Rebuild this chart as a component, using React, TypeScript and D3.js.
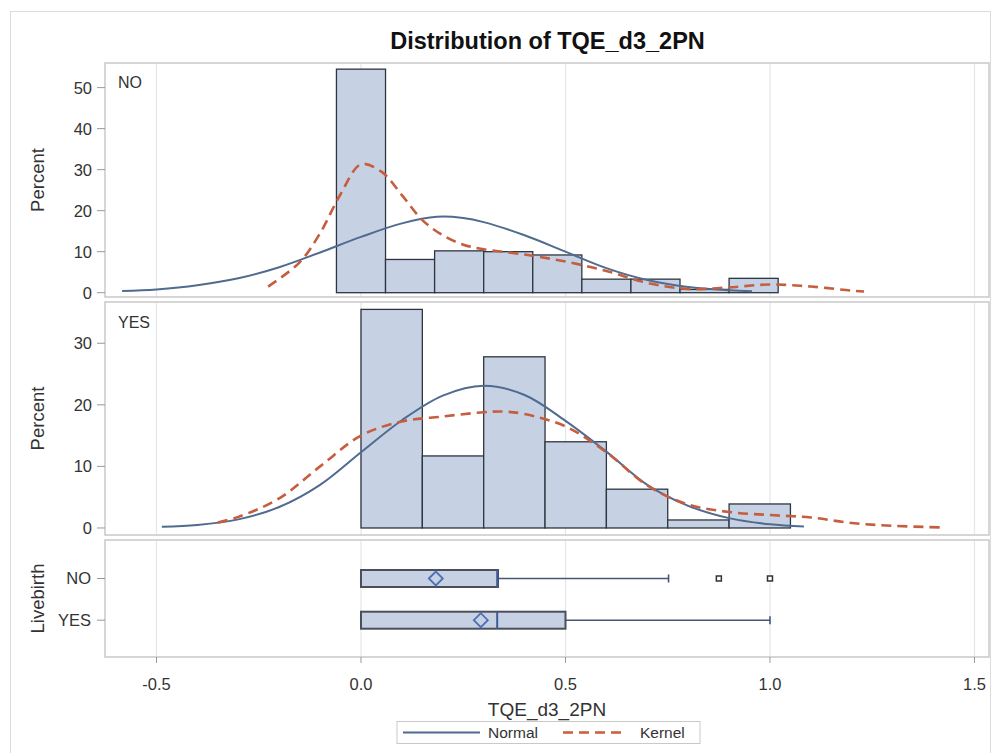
import React from "react";
import * as d3 from "d3";

// ---- data ----
const xTicks = [-0.5, 0, 0.5, 1.0, 1.5];
const yTicksNo = [0, 10, 20, 30, 40, 50];
const yTicksYes = [0, 10, 20, 30];
const groups = ["NO", "YES"];

// histogram, Livebirth = NO (bin edges + percent)
const noEdges = [-0.06, 0.06, 0.18, 0.3, 0.42, 0.54, 0.66, 0.78, 0.9, 1.02];
const noPercent = [54.5, 8.1, 10.2, 10.0, 9.2, 3.3, 3.3, 0.8, 3.5];

// histogram, Livebirth = YES
const yesEdges = [0, 0.15, 0.3, 0.45, 0.6, 0.75, 0.9, 1.05];
const yesPercent = [35.5, 11.7, 27.8, 14.0, 6.3, 1.3, 3.9];

// fitted curves [x, percent]
const noNormal: [number, number][] = [
  [-0.584, 0.4], [-0.5, 0.8], [-0.4, 1.8], [-0.3, 3.5], [-0.2, 6.2], [-0.1, 9.8],
  [0, 13.6], [0.1, 16.9], [0.186, 18.5], [0.25, 18.2], [0.3, 17.2], [0.4, 14.0],
  [0.5, 10.0], [0.6, 6.0], [0.7, 3.1], [0.8, 1.4], [0.9, 0.6], [0.956, 0.35],
];
const noKernel: [number, number][] = [
  [-0.227, 1.5], [-0.15, 7.4], [-0.1, 14.5], [-0.05, 24.0], [0, 31.3], [0.05, 29.5],
  [0.1, 23.8], [0.15, 17.7], [0.2, 14.0], [0.25, 11.7], [0.3, 10.6], [0.4, 9.3],
  [0.5, 7.6], [0.6, 5.3], [0.7, 2.4], [0.8, 0.9], [0.9, 1.3], [1.0, 2.0],
  [1.1, 1.5], [1.2, 0.5], [1.23, 0.3],
];
const yesNormal: [number, number][] = [
  [-0.487, 0.2], [-0.4, 0.5], [-0.3, 1.4], [-0.2, 3.4], [-0.1, 7.0], [0, 12.3],
  [0.1, 17.5], [0.2, 21.5], [0.3, 23.1], [0.4, 21.6], [0.5, 17.4], [0.6, 12.4],
  [0.7, 7.0], [0.8, 3.6], [0.9, 1.6], [1.0, 0.6], [1.083, 0.25],
];
const yesKernel: [number, number][] = [
  [-0.35, 0.9], [-0.3, 1.8], [-0.2, 4.8], [-0.1, 10.0], [0, 15.0], [0.1, 17.3],
  [0.2, 18.1], [0.3, 18.8], [0.35, 18.9], [0.4, 18.5], [0.5, 16.5], [0.6, 12.3],
  [0.7, 6.9], [0.8, 3.8], [0.9, 2.6], [1.0, 2.1], [1.1, 1.7], [1.2, 0.8],
  [1.3, 0.35], [1.416, 0.1],
];

// box plot stats per group
const boxQ1 = [0, 0];
const boxMedian = [0.333, 0.333];
const boxQ3 = [0.335, 0.5];
const boxMean = [0.183, 0.293];
const boxWhiskerHi = [0.752, 1.0];
const boxOutliers = [[0.875, 1.0], []];

// ---- styles ----
const FONT = "'Liberation Sans', Arial, sans-serif";
const BAR_FILL = "#c6d1e4";
const BAR_STROKE = "#2e3542";
const NORMAL_C = "#4f6b90";
const KERNEL_C = "#c65d3e";
const GRID_C = "#e6e6e6";
const FRAME_C = "#c9c9c9";
const TEXT_C = "#333";

const W = 992;
const H = 753;
const L = 105;
const R = 989;
const p1 = { top: 63, bottom: 297 };
const p2 = { top: 302, bottom: 535 };
const p3 = { top: 540, bottom: 657 };

const x = d3.scaleLinear().domain([-0.6259, 1.5355]).range([L, R]);
const y1 = d3.scaleLinear().domain([-1.05, 56.0]).range([p1.bottom, p1.top]);
const y2 = d3.scaleLinear().domain([-1.14, 36.7]).range([p2.bottom, p2.top]);
const yBox = d3.scalePoint().domain(groups).range([578.5, 620.2]);

function Hist({ edges, vals, y }: { edges: number[]; vals: number[]; y: d3.ScaleLinear<number, number> }) {
  return (
    <g>
      {vals.map((v, i) => (
        <rect
          key={i}
          x={x(edges[i])}
          y={y(v)}
          width={x(edges[i + 1]) - x(edges[i])}
          height={y(0) - y(v)}
          fill={BAR_FILL}
          stroke={BAR_STROKE}
          strokeWidth={1.3}
        />
      ))}
    </g>
  );
}

function Curves({ normal, kernel, y }: { normal: [number, number][]; kernel: [number, number][]; y: d3.ScaleLinear<number, number> }) {
  const line = d3
    .line<[number, number]>()
    .x((d) => x(d[0]))
    .y((d) => y(d[1]))
    .curve(d3.curveCatmullRom.alpha(0.5));
  return (
    <g fill="none">
      <path d={line(normal) || ""} stroke={NORMAL_C} strokeWidth={2} />
      <path d={line(kernel) || ""} stroke={KERNEL_C} strokeWidth={2.6} strokeDasharray="10,6" />
    </g>
  );
}

function Panel({ top, bottom }: { top: number; bottom: number }) {
  return (
    <g>
      {xTicks.map((t) => (
        <line key={t} x1={x(t)} x2={x(t)} y1={top} y2={bottom} stroke={GRID_C} strokeWidth={1.2} />
      ))}
      <rect x={L} y={top} width={R - L} height={bottom - top} fill="none" stroke={FRAME_C} strokeWidth={1.5} />
    </g>
  );
}

function YAxis({ ticks, y }: { ticks: number[]; y: d3.ScaleLinear<number, number> }) {
  return (
    <g>
      {ticks.map((t) => (
        <g key={t}>
          <line x1={97} x2={L} y1={y(t)} y2={y(t)} stroke="#999" />
          <text x={92} y={y(t)} dy="0.36em" textAnchor="end" fontSize={16.5} fill={TEXT_C}>
            {t}
          </text>
        </g>
      ))}
    </g>
  );
}

export default function App() {
  const bh = 8.5;
  return (
    <svg
      width={W}
      height={H}
      style={{ position: "absolute", left: 0, top: 0, background: "#fff" }}
      fontFamily={FONT}
    >
      <rect x={10.5} y={11.5} width={980} height={760} fill="#fff" stroke="#dcdcdc" />
      <text x={547.5} y={49} textAnchor="middle" fontSize={23.5} fontWeight="bold" fill="#111">
        Distribution of TQE_d3_2PN
      </text>

      {/* panel NO */}
      <Panel {...p1} />
      <Hist edges={noEdges} vals={noPercent} y={y1} />
      <Curves normal={noNormal} kernel={noKernel} y={y1} />
      <YAxis ticks={yTicksNo} y={y1} />
      <text x={118} y={88} fontSize={16} fill={TEXT_C}>NO</text>
      <text transform={`translate(38,${(p1.top + p1.bottom) / 2}) rotate(-90)`} textAnchor="middle" dy="0.35em" fontSize={18.5} fill={TEXT_C}>
        Percent
      </text>

      {/* panel YES */}
      <Panel {...p2} />
      <Hist edges={yesEdges} vals={yesPercent} y={y2} />
      <Curves normal={yesNormal} kernel={yesKernel} y={y2} />
      <YAxis ticks={yTicksYes} y={y2} />
      <text x={118} y={327.5} fontSize={16} fill={TEXT_C}>YES</text>
      <text transform={`translate(38,${(p2.top + p2.bottom) / 2}) rotate(-90)`} textAnchor="middle" dy="0.35em" fontSize={18.5} fill={TEXT_C}>
        Percent
      </text>

      {/* box plot panel */}
      <Panel {...p3} />
      {groups.map((g, i) => {
        const cy = yBox(g) as number;
        return (
          <g key={g}>
            <line x1={97} x2={L} y1={cy} y2={cy} stroke="#999" />
            <text x={91} y={cy} dy="0.36em" textAnchor="end" fontSize={16.5} fill={TEXT_C}>{g}</text>
            <line x1={x(boxQ3[i])} x2={x(boxWhiskerHi[i])} y1={cy} y2={cy} stroke="#46557a" strokeWidth={1.6} />
            <line x1={x(boxWhiskerHi[i])} x2={x(boxWhiskerHi[i])} y1={cy - 4} y2={cy + 4} stroke="#46557a" strokeWidth={1.6} />
            <rect x={x(boxQ1[i])} y={cy - bh} width={x(boxQ3[i]) - x(boxQ1[i])} height={bh * 2} fill={BAR_FILL} stroke="#4a4f5a" strokeWidth={2} />
            <line x1={x(boxMedian[i])} x2={x(boxMedian[i])} y1={cy - bh} y2={cy + bh} stroke="#3f5a9a" strokeWidth={2} />
            <path
              d={`M${x(boxMean[i]) - 7},${cy} L${x(boxMean[i])},${cy - 7} L${x(boxMean[i]) + 7},${cy} L${x(boxMean[i])},${cy + 7} Z`}
              fill={BAR_FILL}
              stroke="#4d6fb3"
              strokeWidth={1.8}
            />
            {boxOutliers[i].map((o) => (
              <rect key={o} x={x(o) - 2.5} y={cy - 2.5} width={5} height={5} fill="#fff" stroke="#333" strokeWidth={1.5} />
            ))}
          </g>
        );
      })}
      <text transform={`translate(38,${(p3.top + p3.bottom) / 2}) rotate(-90)`} textAnchor="middle" dy="0.35em" fontSize={18.5} fill={TEXT_C}>
        Livebirth
      </text>

      {/* x axis */}
      {xTicks.map((t) => (
        <g key={t}>
          <line x1={x(t)} x2={x(t)} y1={p3.bottom} y2={p3.bottom + 6} stroke="#999" />
          <text x={x(t)} y={684} dy="0.36em" textAnchor="middle" fontSize={16.5} fill={TEXT_C}>
            {t.toFixed(1)}
          </text>
        </g>
      ))}
      <text x={547} y={716} textAnchor="middle" fontSize={19} fill={TEXT_C}>TQE_d3_2PN</text>

      {/* legend */}
      <rect x={397} y={721.5} width={303} height={22} fill="#fff" stroke={FRAME_C} />
      <line x1={403} x2={480} y1={732.5} y2={732.5} stroke={NORMAL_C} strokeWidth={2} />
      <text x={488} y={732.5} dy="0.36em" fontSize={15.5} fill={TEXT_C}>Normal</text>
      <line x1={563} x2={624} y1={732.5} y2={732.5} stroke={KERNEL_C} strokeWidth={2.6} strokeDasharray="10,6" />
      <text x={640} y={732.5} dy="0.36em" fontSize={15.5} fill={TEXT_C}>Kernel</text>
    </svg>
  );
}
